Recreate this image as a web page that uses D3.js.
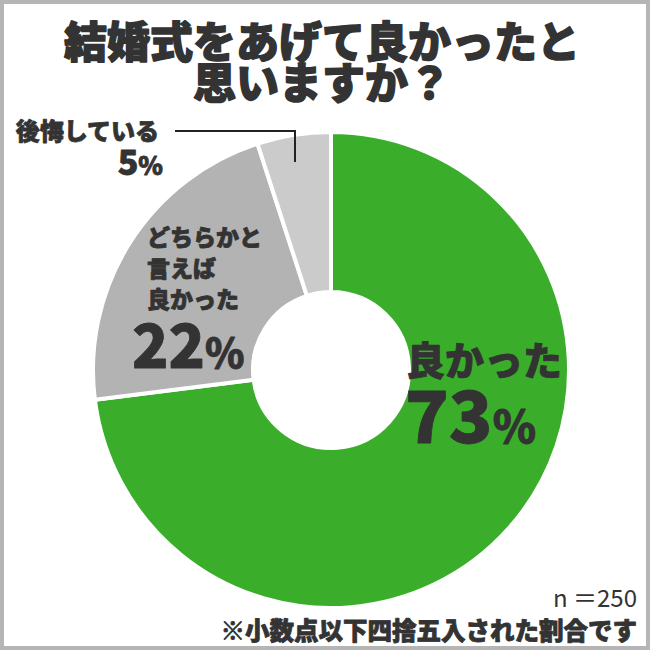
<!DOCTYPE html>
<html>
<head>
<meta charset="utf-8">
<script src="https://cdn.jsdelivr.net/npm/d3@7"></script>
<style>
  body { margin: 0; background: #fff; }
  text { font-family: "Noto Sans CJK JP", "Noto Sans", sans-serif; fill: #333; }
  .b { font-weight: 900; stroke: #333; stroke-width: 0.8px; stroke-linejoin: round; }
  .t { stroke-width: 1.4px; }
</style>
</head>
<body>
<div id="chart"></div>
<script>
// data
var categories = ["良かった", "どちらかと言えば良かった", "後悔している"];
var values = [73, 22, 5];
var colors = ["#3aae2b", "#b3b3b3", "#cbcbcb"];
var titleLines = ["結婚式をあげて良かったと", "思いますか？"];
var sampleNote = "n ＝250";
var footNote = "※小数点以下四捨五入された割合です";

var width = 650, height = 650,
    cx = 331, cy = 370,
    outerR = 238, innerR = 78;

var svg = d3.select("#chart").append("svg")
    .attr("width", width)
    .attr("height", height);

svg.append("rect")
    .attr("x", 2).attr("y", 2)
    .attr("width", width - 4).attr("height", height - 4)
    .attr("fill", "#fff")
    .attr("stroke", "#b5b5b5")
    .attr("stroke-width", 4);

// title
svg.append("g").selectAll("text")
    .data(titleLines)
  .enter().append("text")
    .attr("class", "b t")
    .attr("x", 322)
    .attr("y", function(d, i) { return 58 + i * 41; })
    .attr("text-anchor", "middle")
    .style("font-size", "43px")
    .text(function(d) { return d; });

var pie = d3.pie().sort(null).value(function(d) { return d; });
var arc = d3.arc().innerRadius(innerR).outerRadius(outerR);

var g = svg.append("g")
    .attr("transform", "translate(" + cx + "," + cy + ")");

g.selectAll("path")
    .data(pie(values))
  .enter().append("path")
    .attr("d", arc)
    .attr("fill", function(d, i) { return colors[i]; })
    .attr("stroke", "#fff")
    .attr("stroke-width", 4)
    .attr("stroke-linejoin", "miter");

// labels
function pctLabel(sel, x, y, v, big, small, anchor) {
  var t = sel.append("text")
      .attr("class", "b")
      .attr("x", x).attr("y", y)
      .attr("text-anchor", anchor || "start");
  t.append("tspan").style("font-size", big + "px").text(v);
  t.append("tspan").style("font-size", small + "px").text("%");
}

// 良かった
svg.append("text")
    .attr("class", "b")
    .attr("x", 406).attr("y", 375)
    .style("font-size", "39px")
    .text(categories[0]);
pctLabel(svg, 405, 443, values[0], 72, 44);

// どちらかと言えば良かった
["どちらかと", "言えば", "良かった"].forEach(function(s, i) {
  svg.append("text")
      .attr("class", "b")
      .attr("x", 147).attr("y", 246 + i * 31)
      .style("font-size", "23px")
      .text(s);
});
pctLabel(svg, 132, 368, values[1], 60, 40);

// 後悔している
svg.append("text")
    .attr("class", "b")
    .attr("x", 159).attr("y", 140)
    .attr("text-anchor", "end")
    .style("font-size", "24px")
    .text(categories[2]);
pctLabel(svg, 163, 175, values[2], 34, 25, "end");

svg.append("path")
    .attr("d", "M175,131H295V162")
    .attr("fill", "none")
    .attr("stroke", "#222")
    .attr("stroke-width", 2);

svg.append("text")
    .attr("x", 637).attr("y", 607)
    .attr("text-anchor", "end")
    .style("font-size", "24px")
    .text(sampleNote);

svg.append("text")
    .attr("class", "b")
    .attr("x", 637).attr("y", 640)
    .attr("text-anchor", "end")
    .style("font-size", "24.5px")
    .text(footNote);
</script>
</body>
</html>
